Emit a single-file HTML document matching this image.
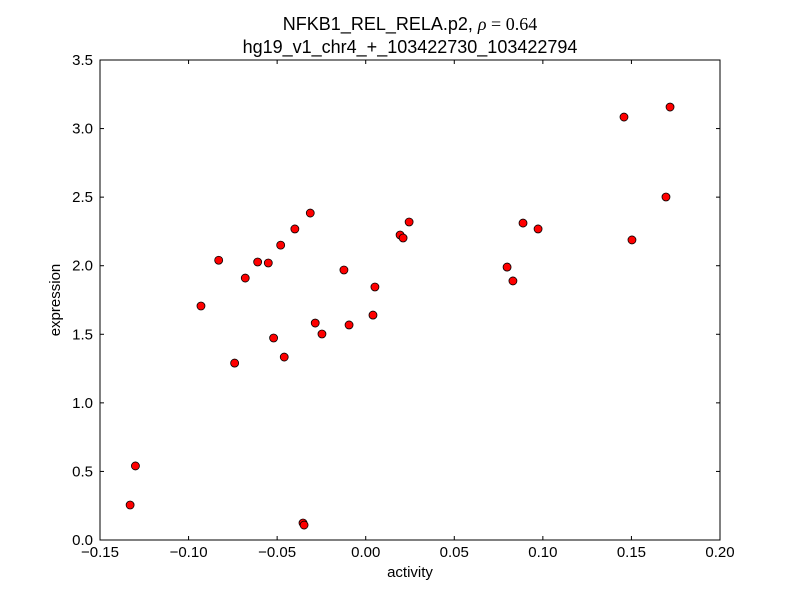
<!DOCTYPE html>
<html><head><meta charset="utf-8"><style>
body{margin:0;background:#fff;}
svg{display:block;font-family:"Liberation Sans",sans-serif;}
</style></head><body>
<svg id="chart" width="800" height="600">
<rect width="800" height="600" fill="#fff"/>
<text x="410" y="30" font-size="18" text-anchor="middle">NFKB1_REL_RELA.p2, <tspan font-family="Liberation Serif" font-style="italic">ρ</tspan><tspan font-family="Liberation Serif"> = 0.64</tspan></text>
<text x="410" y="53" font-size="18" text-anchor="middle">hg19_v1_chr4_+_103422730_103422794</text>
<g id="xticks"></g>
<g id="yticks"></g>
<g id="points"></g>
<rect x="100" y="60" width="620" height="480" fill="none" stroke="#000" stroke-width="1"/>
<text x="410" y="577" font-size="15" text-anchor="middle">activity</text>
<text x="60" y="300" font-size="15" text-anchor="middle" transform="rotate(-90 60 300)">expression</text>
</svg>
<script>
const activity=[-0.133,-0.130,-0.093,-0.083,-0.074,-0.068,-0.061,-0.055,-0.052,-0.048,-0.046,-0.040,-0.0354,-0.0348,-0.0313,-0.0285,-0.0247,-0.0123,-0.0094,0.0041,0.0052,0.0194,0.0211,0.0245,0.0798,0.0831,0.0888,0.0973,0.1458,0.1503,0.1695,0.1718];
const expression=[0.255,0.54,1.706,2.04,1.29,1.91,2.027,2.02,1.473,2.15,1.334,2.268,0.124,0.109,2.384,1.582,1.502,1.969,1.568,1.64,1.845,2.224,2.202,2.319,1.99,1.889,2.311,2.268,3.084,2.188,2.501,3.157];
const xTickLabels=["−0.15","−0.10","−0.05","0.00","0.05","0.10","0.15","0.20"];
const xTickValues=[-0.15,-0.10,-0.05,0,0.05,0.10,0.15,0.20];
const yTickLabels=["0.0","0.5","1.0","1.5","2.0","2.5","3.0","3.5"];
const yTickValues=[0,0.5,1,1.5,2,2.5,3,3.5];
const NS="http://www.w3.org/2000/svg";
const sx=v=>100+(v+0.15)/0.35*620;
const sy=v=>540-v/3.5*480;
function mk(tag,attrs,parent){const e=document.createElementNS(NS,tag);for(const k in attrs)e.setAttribute(k,attrs[k]);parent.appendChild(e);return e;}
const xg=document.getElementById('xticks');
xTickValues.forEach((v,i)=>{const x=sx(v);
 const t1=mk('line',{x1:x,x2:x,y1:540,y2:536,stroke:'#000'},xg);
 
 
 const t2=mk('line',{x1:x,x2:x,y1:60,y2:64,stroke:'#000'},xg);
 
 
 const l=mk('text',{x:x,y:557,'font-size':15,'text-anchor':'middle'},xg);l.textContent=xTickLabels[i];
 
 
});
const yg=document.getElementById('yticks');
yTickValues.forEach((v,i)=>{const y=sy(v);
 const t1=mk('line',{x1:100,x2:104,y1:y,y2:y,stroke:'#000'},yg);
 
 
 const t2=mk('line',{x1:716,x2:720,y1:y,y2:y,stroke:'#000'},yg);
 
 
 const l=mk('text',{x:93,y:y+5,'font-size':15,'text-anchor':'end'},yg);l.textContent=yTickLabels[i];
 
 
});
const pg=document.getElementById('points');
activity.forEach((a,i)=>{
 const c=mk('circle',{cx:sx(a),cy:sy(expression[i]),r:4,fill:'#ff0000',stroke:'#000','stroke-width':0.8},pg);
 
 
});
</script>
</body></html>
